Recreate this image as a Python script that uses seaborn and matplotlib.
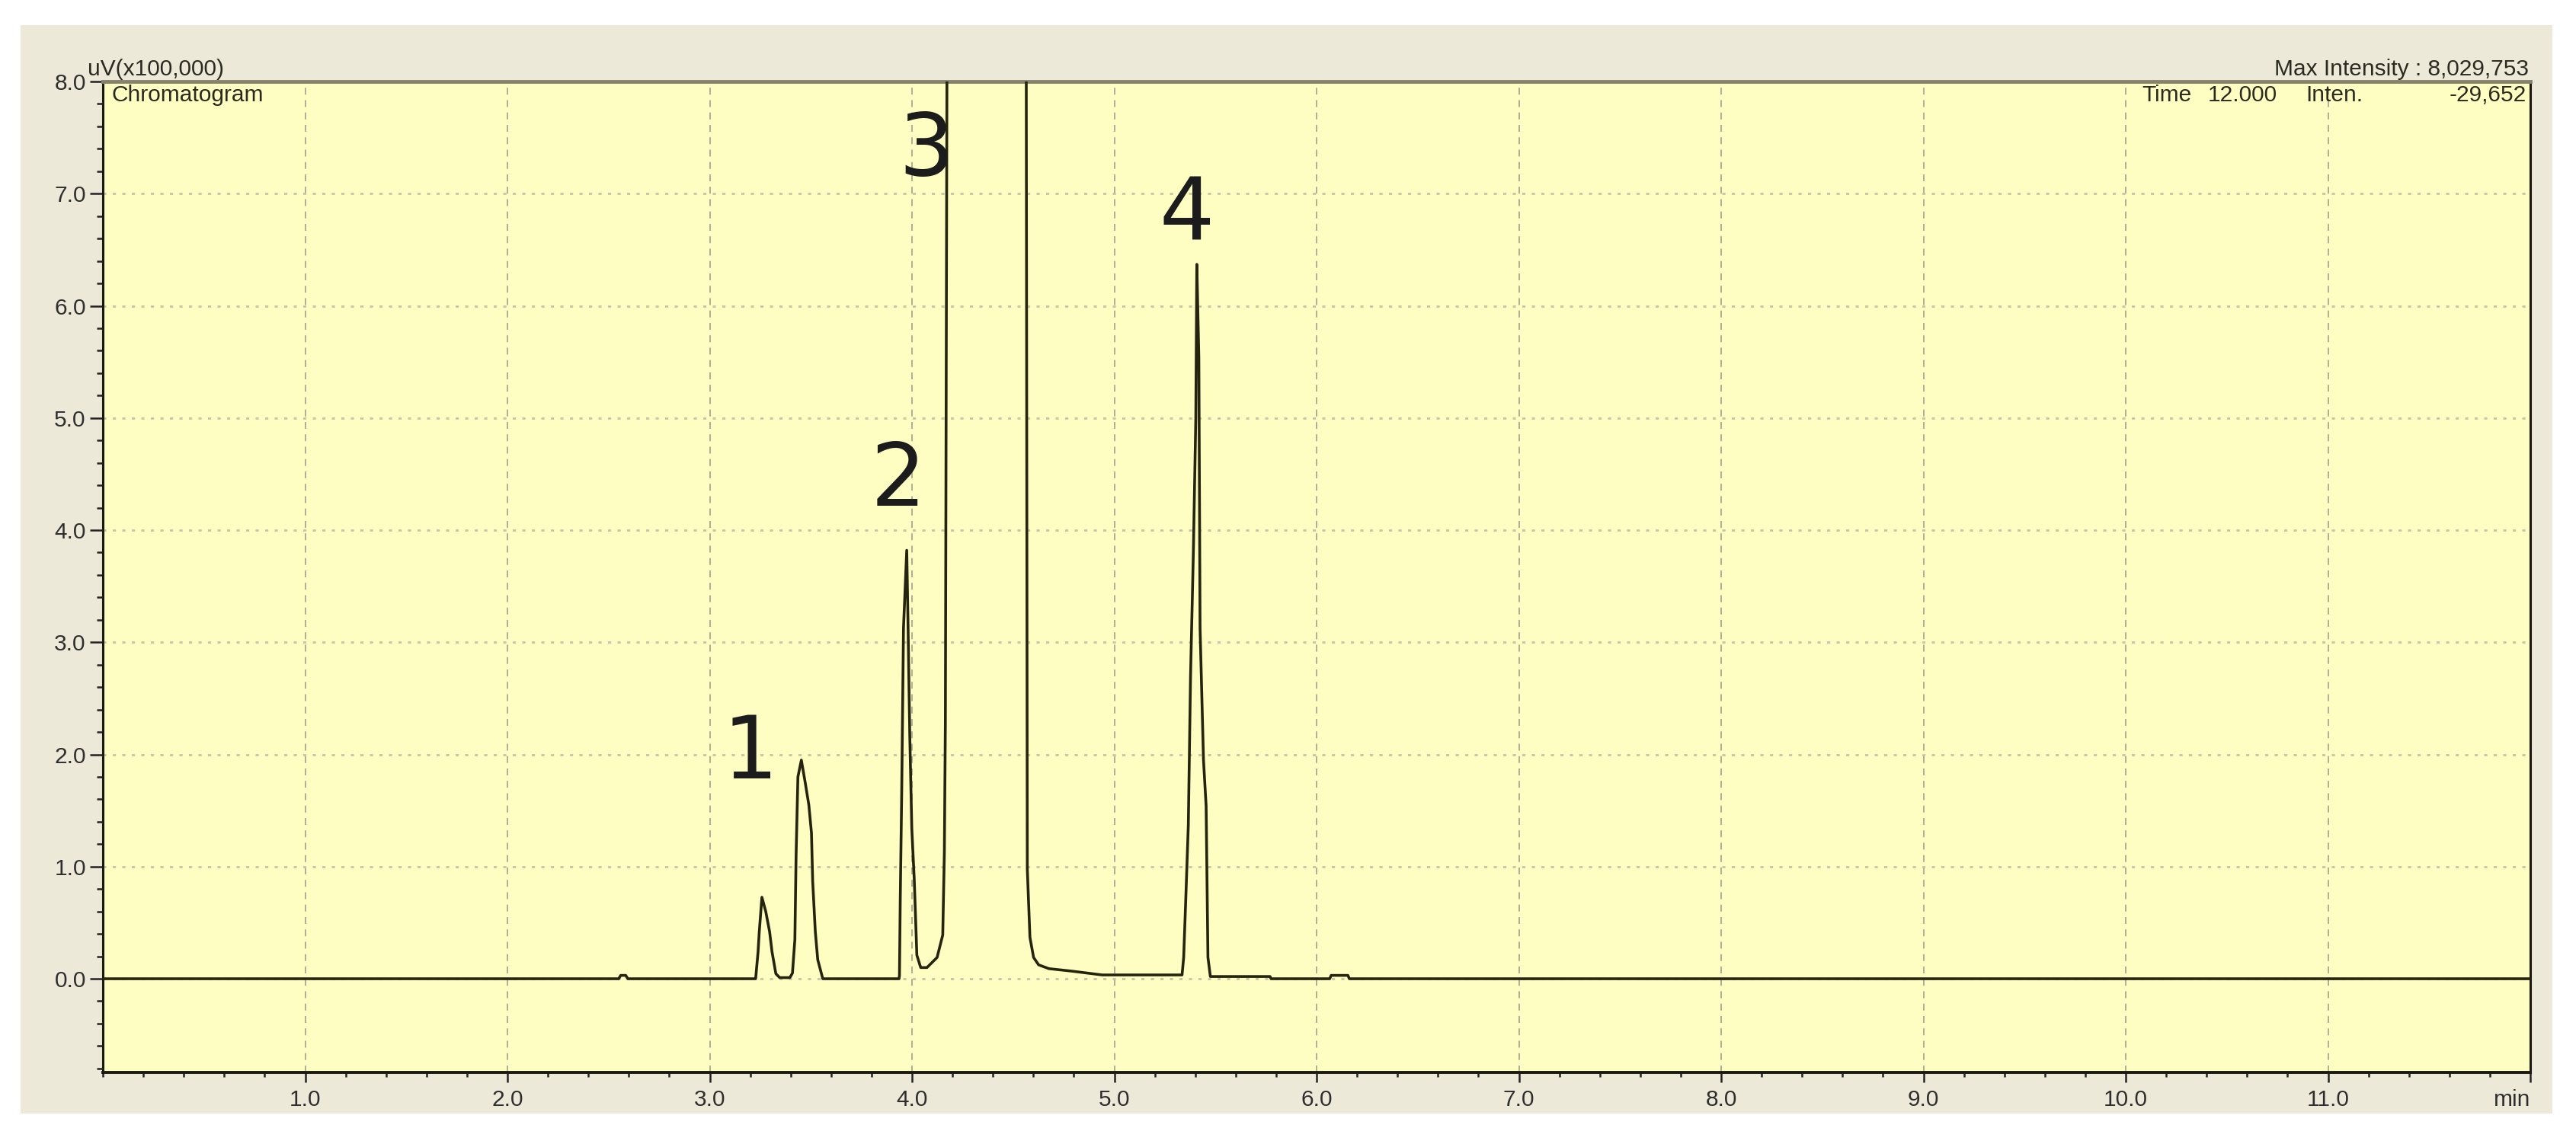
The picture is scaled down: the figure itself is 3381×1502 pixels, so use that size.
import matplotlib
matplotlib.use("Agg")
import matplotlib.pyplot as plt
from matplotlib.patches import Rectangle
from matplotlib.ticker import MultipleLocator
import seaborn as sns
import pandas as pd

# ---- data (time in min, intensity in uV x 100,000) ----
times = [0.00, 2.550, 2.560, 2.585, 2.595, 3.222,
         3.227, 3.239, 3.245, 3.258, 3.277, 3.296, 3.308, 3.327, 3.346, 3.396,
         3.409, 3.421, 3.427, 3.436, 3.453, 3.472, 3.490, 3.503, 3.509, 3.522, 3.534, 3.559,
         3.936, 3.938, 3.942, 3.949, 3.958, 3.974, 3.980, 3.989, 3.999, 4.011, 4.024, 4.043,
         4.074, 4.124, 4.152, 4.160, 4.165,
         4.178, 4.260, 4.370, 4.480, 4.562, 4.570, 4.583, 4.601, 4.626, 4.677, 4.790, 4.940, 5.335,
         5.343, 5.353, 5.366, 5.377, 5.391, 5.403, 5.408, 5.418, 5.424, 5.441, 5.454, 5.463, 5.475,
         5.770, 5.775, 6.065, 6.072, 6.155, 6.162, 12.0]
intensity = [0.0, 0.0, 0.03, 0.03, 0.0, 0.0,
             0.0, 0.24, 0.42, 0.727, 0.60, 0.42, 0.24, 0.045, 0.01, 0.01,
             0.05, 0.35, 1.10, 1.80, 1.95, 1.75, 1.55, 1.30, 0.87, 0.42, 0.17, 0.0,
             0.0, 0.03, 0.71, 1.65, 3.13, 3.82, 3.20, 2.17, 1.34, 0.89, 0.21, 0.10,
             0.10, 0.19, 0.39, 1.13, 2.28,
             12.0, 55.0, 80.3, 50.0, 12.0, 0.98, 0.37, 0.19, 0.124, 0.09, 0.068, 0.034, 0.034,
             0.19, 0.69, 1.37, 2.70, 3.81, 5.00, 6.37, 5.54, 3.13, 1.95, 1.54, 0.19, 0.02,
             0.02, 0.0, 0.0, 0.03, 0.03, 0.0, 0.0]

x_major = [1, 2, 3, 4, 5, 6, 7, 8, 9, 10, 11, 12]
x_labels = ["1.0", "2.0", "3.0", "4.0", "5.0", "6.0", "7.0", "8.0", "9.0", "10.0", "11.0", "min"]
y_major = [0, 1, 2, 3, 4, 5, 6, 7, 8]
y_labels = ["0.0", "1.0", "2.0", "3.0", "4.0", "5.0", "6.0", "7.0", "8.0"]

peak_names = ["1", "2", "3", "4"]
peak_label_x = [3.20, 3.93, 4.07, 5.36]
peak_label_y = [2.00, 4.43, 7.38, 6.80]

df = pd.DataFrame({"time": times, "intensity": intensity})

W, H = 3381, 1502
fig = plt.figure(figsize=(W / 100, H / 100), dpi=100)
fig.patch.set_facecolor("white")
fig.add_artist(Rectangle((27 / W, (H - 1462) / H), (3350 - 27) / W, (1462 - 33) / H,
                         transform=fig.transFigure, facecolor="#ECE9D8",
                         edgecolor="none", zorder=-10))

ax = fig.add_axes([135 / W, (H - 1408) / H, (3321 - 135) / W, (1408 - 107) / H])
ax.set_facecolor("#FFFEC2")

sns.lineplot(data=df, x="time", y="intensity", ax=ax, sort=False, estimator=None,
             color="#25240f", linewidth=2.6, zorder=3)

ax.set_xlim(0, 12)
ax.set_ylim(-0.835, 8.0)
ax.set_xlabel("")
ax.set_ylabel("")

tick_font = ["Liberation Sans", "DejaVu Sans"]
ax.set_xticks(x_major)
ax.set_xticklabels(x_labels, fontsize=21.5, color="#2e2e2e", family=tick_font)
ax.get_xticklabels()[-1].set_horizontalalignment("right")
ax.set_yticks(y_major)
ax.set_yticklabels(y_labels, fontsize=21.5, color="#2e2e2e", family=tick_font)
ax.xaxis.set_minor_locator(MultipleLocator(0.2))
ax.yaxis.set_minor_locator(MultipleLocator(0.2))
ax.tick_params(axis="x", which="major", length=9, width=1.8, direction="out",
               color="#222222", pad=7)
ax.tick_params(axis="x", which="minor", length=4.5, width=1.8, direction="out",
               color="#222222")
ax.tick_params(axis="y", which="major", length=12, width=1.8, direction="out",
               color="#222222", pad=4)
ax.tick_params(axis="y", which="minor", length=6, width=1.8, direction="out",
               color="#222222")

ax.set_axisbelow(True)
ax.grid(axis="x", which="major", linestyle=(0, (5, 4)), color="#a9a792", linewidth=1.3)
ax.grid(axis="y", which="major", linestyle=(0, (1.5, 3)), color="#c6c4a6", linewidth=2.0)

for side in ["left", "right"]:
    ax.spines[side].set_color("#1a1a10")
    ax.spines[side].set_linewidth(2.2)
ax.spines["bottom"].set_color("#1a1a10")
ax.spines["bottom"].set_linewidth(2.8)
ax.spines["top"].set_color("#86836c")
ax.spines["top"].set_linewidth(3.5)

hdr = dict(fontsize=21.5, color="#2a2a20", family=tick_font)
fig.text(115 / W, (H - 99) / H, "uV(x100,000)", ha="left", va="baseline", **hdr)
fig.text(147 / W, (H - 111) / H, "Chromatogram", ha="left", va="top", **hdr)
fig.text(3319 / W, (H - 99) / H, "Max Intensity : 8,029,753", ha="right", va="baseline", **hdr)
fig.text(2811 / W, (H - 111) / H, "Time", ha="left", va="top", **hdr)
fig.text(2989 / W, (H - 111) / H, "12.000", ha="right", va="top", **hdr)
fig.text(3026 / W, (H - 111) / H, "Inten.", ha="left", va="top", **hdr)
fig.text(3316 / W, (H - 111) / H, "-29,652", ha="right", va="top", **hdr)

for name, px, py in zip(peak_names, peak_label_x, peak_label_y):
    ax.text(px, py, name, ha="center", va="center", fontsize=82, color="#1c1c1c",
            family=["DejaVu Sans"], zorder=4)

fig.savefig("out.png", dpi=100, facecolor=fig.get_facecolor())
